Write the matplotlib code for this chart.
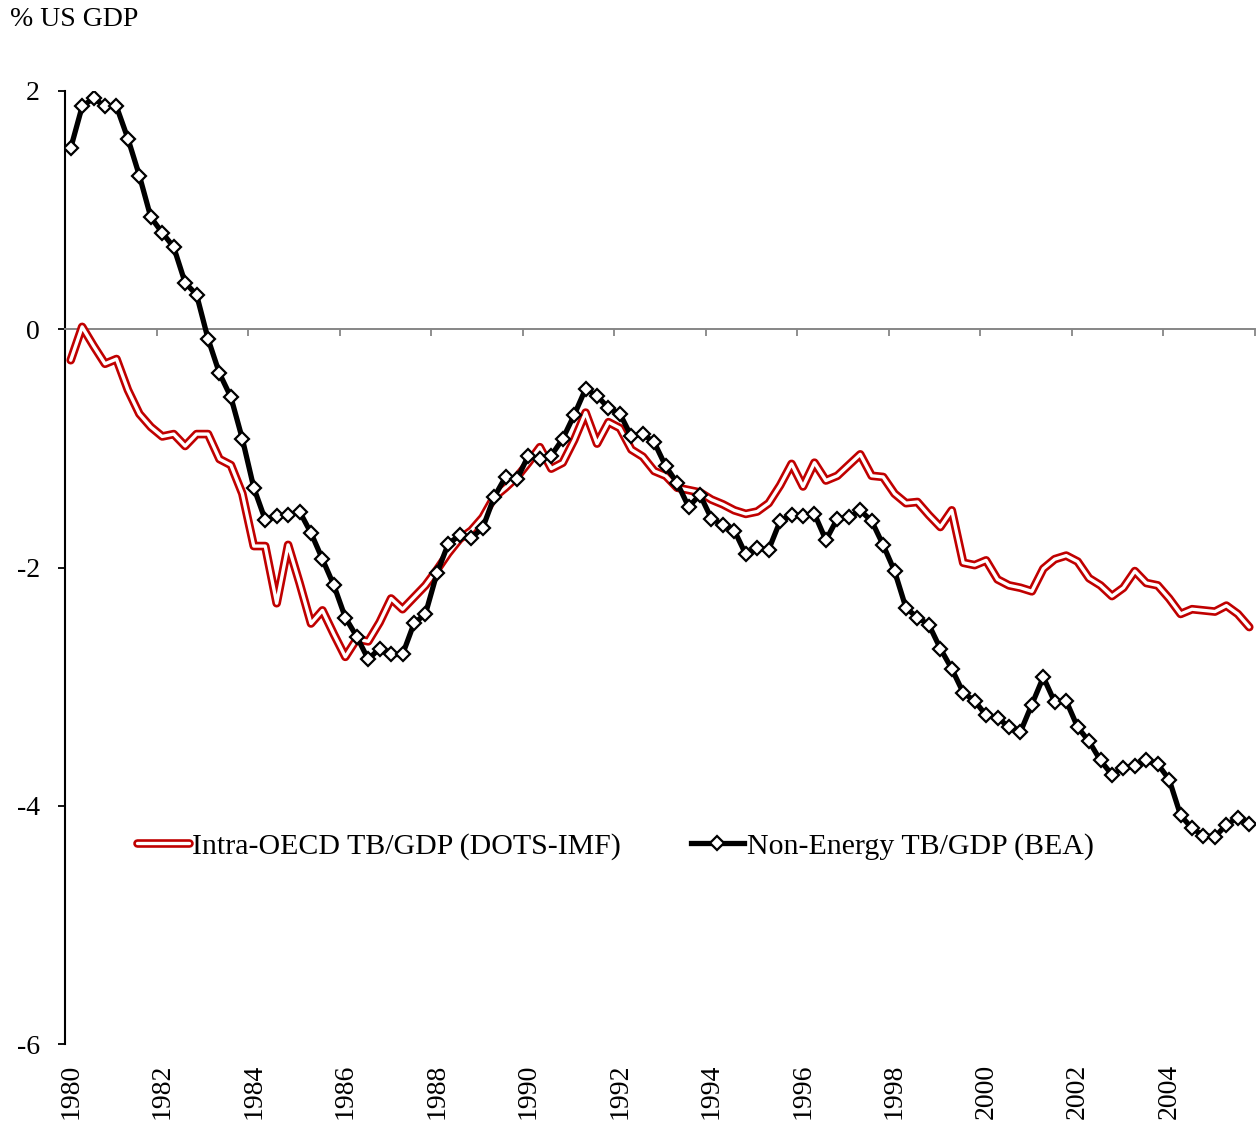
import numpy as np
import matplotlib
matplotlib.use('Agg')
import matplotlib.pyplot as plt
from matplotlib.lines import Line2D

plt.rcParams['font.family'] = ['Liberation Serif', 'DejaVu Serif']

# quarterly data, 1980Q1 .. 2005Q4 (% of US GDP)
year_labels = ['1980', '1982', '1984', '1986', '1988', '1990', '1992',
               '1994', '1996', '1998', '2000', '2002', '2004']

oecd_tb = [-0.26, 0.02, -0.14, -0.29, -0.25, -0.51, -0.71, -0.82, -0.90, -0.88,
           -0.98, -0.88, -0.88, -1.09, -1.14, -1.38, -1.82, -1.82, -2.30, -1.81,
           -2.13, -2.47, -2.36, -2.56, -2.75, -2.60, -2.62, -2.46, -2.26, -2.35,
           -2.25, -2.15, -2.02, -1.88, -1.76, -1.69, -1.58, -1.41, -1.33, -1.24,
           -1.12, -0.99, -1.17, -1.12, -0.93, -0.70, -0.96, -0.78, -0.83, -1.01,
           -1.07, -1.19, -1.23, -1.33, -1.35, -1.37, -1.43, -1.47, -1.52, -1.55,
           -1.53, -1.46, -1.31, -1.13, -1.32, -1.12, -1.27, -1.23, -1.14, -1.05,
           -1.23, -1.24, -1.38, -1.46, -1.45, -1.56, -1.66, -1.52, -1.96, -1.98,
           -1.94, -2.10, -2.15, -2.17, -2.20, -2.01, -1.93, -1.90, -1.95, -2.09,
           -2.15, -2.24, -2.17, -2.03, -2.13, -2.15, -2.26, -2.39, -2.35, -2.36,
           -2.37, -2.32, -2.39, -2.50]

bea_tb = [1.52, 1.87, 1.94, 1.87, 1.87, 1.60, 1.29, 0.94, 0.81, 0.69,
          0.39, 0.29, -0.08, -0.37, -0.57, -0.92, -1.33, -1.60, -1.57, -1.56,
          -1.53, -1.71, -1.93, -2.15, -2.42, -2.58, -2.77, -2.68, -2.73, -2.73,
          -2.47, -2.39, -2.05, -1.80, -1.73, -1.75, -1.67, -1.41, -1.24, -1.26,
          -1.06, -1.09, -1.06, -0.92, -0.72, -0.50, -0.56, -0.66, -0.71, -0.90,
          -0.88, -0.95, -1.15, -1.29, -1.49, -1.39, -1.59, -1.64, -1.69, -1.89,
          -1.84, -1.85, -1.61, -1.56, -1.57, -1.55, -1.77, -1.59, -1.58, -1.52,
          -1.61, -1.81, -2.03, -2.34, -2.42, -2.48, -2.68, -2.85, -3.05, -3.12,
          -3.24, -3.26, -3.34, -3.38, -3.15, -2.92, -3.13, -3.12, -3.34, -3.46,
          -3.62, -3.74, -3.68, -3.67, -3.62, -3.65, -3.78, -4.08, -4.19, -4.25,
          -4.26, -4.16, -4.10, -4.15]

n = len(bea_tb)
x = np.arange(n)
RED = '#C00000'
RED_LW, CORE_LW = 6.2, 2.4

fig = plt.figure(figsize=(12.57, 11.26), dpi=100)
ax = fig.add_axes([0.0517, 0.0728, 0.9467, 0.8464])

# red double line (red outline, white core)
ax.plot(x, oecd_tb, color=RED, lw=RED_LW, solid_joinstyle='round', solid_capstyle='round', zorder=3)
ax.plot(x, oecd_tb, color='white', lw=CORE_LW, solid_joinstyle='round', solid_capstyle='round', zorder=4)
# black line with white diamonds
ax.plot(x, bea_tb, color='black', lw=3.8, marker='D', ms=7.4, mfc='white',
        mec='black', mew=1.6, zorder=5)

ax.set_xlim(-0.5, n - 0.5)
ax.set_ylim(-6, 2)

# y axis
ax.set_yticks([-6, -4, -2, 0, 2])
ax.set_yticklabels(['-6', '-4', '-2', '0', '2'])
ax.tick_params(axis='y', direction='out', length=5, width=1.3, pad=13,
               labelsize=20, color='black')
ax.spines['left'].set_linewidth(1.5)
ax.spines['top'].set_visible(False)
ax.spines['right'].set_visible(False)

# zero line as bottom spine, gray ticks between year groups
ax.spines['bottom'].set_position(('data', 0))
ax.spines['bottom'].set_color('#868686')
ax.spines['bottom'].set_linewidth(1.4)
ax.set_xticks(np.arange(-0.5, n, 8))
ax.tick_params(axis='x', direction='out', length=5, width=1.3,
               color='#868686', labelbottom=False)

# year labels at the bottom of the plot area
sec = ax.secondary_xaxis(0)
sec.set_xticks(np.arange(0, n, 8)[:len(year_labels)])
sec.set_xticklabels(year_labels, rotation=90)
sec.tick_params(axis='x', length=0, pad=14, labelsize=20)
sec.spines['bottom'].set_visible(False)

fig.text(10 / 1257, 1 - 19 / 1126, '% US GDP', fontsize=20, va='center', ha='left')

h_red = (Line2D([], [], color=RED, lw=RED_LW, solid_capstyle='round'),
         Line2D([], [], color='white', lw=CORE_LW, solid_capstyle='round'))
h_blk = Line2D([], [], color='black', lw=3.8, marker='D', ms=7.4, mfc='white',
               mec='black', mew=1.6)
fig.legend([h_red, h_blk],
           ['Intra-OECD TB/GDP (DOTS-IMF)', 'Non-Energy TB/GDP (BEA)'],
           loc='center left', bbox_to_anchor=(137 / 1257, 1 - 846 / 1126),
           ncol=2, frameon=False, fontsize=21.5, handlelength=1.75,
           handletextpad=0.1, columnspacing=2.35, borderpad=0, borderaxespad=0,
           numpoints=1)

fig.savefig('out.png', dpi=100)
